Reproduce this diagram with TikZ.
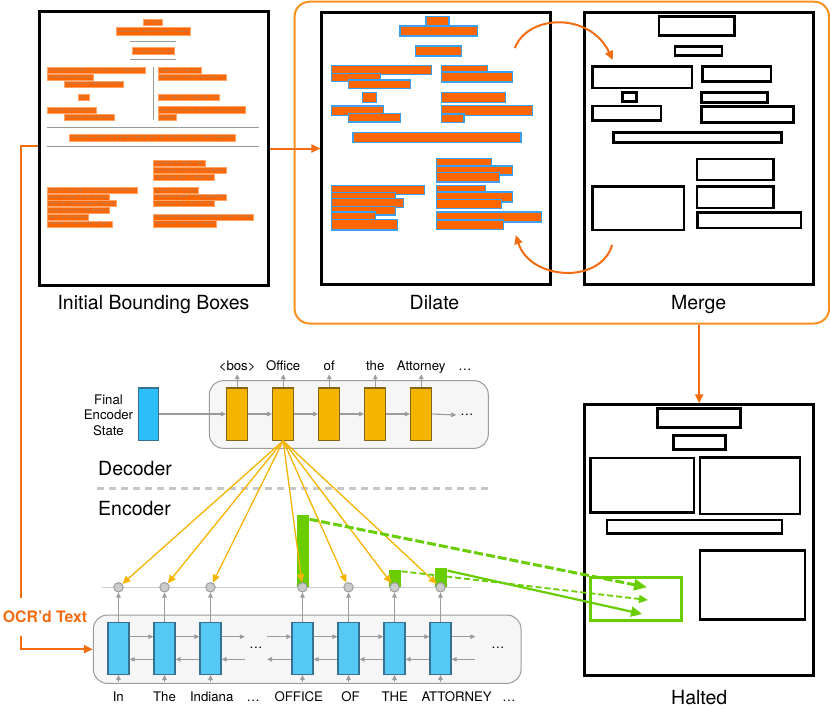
\documentclass[tikz,border=0pt]{standalone}
\usepackage{fontspec}
\setmainfont{TeX Gyre Heros}
\newfontfamily\docfont{Liberation Serif}
\usetikzlibrary{arrows.meta,positioning}

\definecolor{ocrorange}{RGB}{255,102,0}
\definecolor{looporange}{RGB}{250,145,30}
\definecolor{arrorange}{RGB}{242,108,18}
\definecolor{dilblue}{RGB}{60,160,240}
\definecolor{encblue}{RGB}{85,200,245}
\definecolor{encedge}{RGB}{55,115,145}
\definecolor{stateblue}{RGB}{45,190,250}
\definecolor{decyellow}{RGB}{245,180,0}
\definecolor{decedge}{RGB}{130,100,25}
\definecolor{attgreen}{RGB}{105,205,0}
\definecolor{rnngray}{RGB}{155,155,155}
\definecolor{bggray}{RGB}{246,246,246}

\newcommand{\capfont}{\fontsize{19.5}{23}\selectfont}
\newcommand{\tokfont}{\fontsize{13.2}{15.5}\selectfont}

\tikzset{
  panel/.style={draw, line width=3pt, inner sep=0pt, minimum width=228.5pt, minimum height=271.5pt},
  caption/.style={font=\capfont, anchor=base, inner sep=0pt},
  ocrword/.style={fill=ocrorange, draw=ocrorange!60!white, line width=0.8pt},
  dilbox/.style={fill=ocrorange, draw=dilblue, line width=1.2pt},
  mergebox/.style={draw, line width=2.5pt},
  ocrarrow/.style={draw=arrorange, line width=2pt, -{Triangle[length=9pt,width=8pt]}},
  rnnbg/.style={draw=rnngray, fill=bggray, rounded corners=14pt, line width=1pt, inner sep=0pt},
  enccell/.style={draw=encedge, fill=encblue, line width=1.3pt, minimum width=21pt, minimum height=51.7pt, inner sep=0pt},
  deccell/.style={draw=decedge, fill=decyellow, line width=1.3pt, minimum width=21pt, minimum height=52.3pt, inner sep=0pt},
  tok/.style={font=\tokfont, anchor=base, text height=10pt, text depth=0pt, inner xsep=1pt},
  rnnarrow/.style={draw=rnngray, line width=1.1pt, -{Triangle[length=5pt,width=4.5pt]}},
  attcirc/.style={circle, draw=rnngray, fill=black!20, line width=1pt, minimum size=9.4pt, inner sep=0pt},
  attbar/.style={fill=attgreen, anchor=south, minimum width=12.6pt, inner sep=0pt},
  attn/.style={draw=decyellow, line width=1.3pt, -{Triangle[length=8pt,width=7pt]}},
  gbig/.style={draw=attgreen, line width=3pt, dash pattern=on 9pt off 3pt, -{Triangle[length=13pt,width=11pt]}},
  gthin/.style={draw=attgreen, line width=1.8pt, dash pattern=on 6pt off 3pt, -{Triangle[length=9pt,width=8pt]}},
  gsolid/.style={draw=attgreen, line width=2.2pt, -{Triangle[length=11pt,width=10pt]}}
}

\begin{document}
\begin{tikzpicture}[x=1pt,y=-1pt]
  \useasboundingbox (0,0) rectangle (830,709);
  \fill[white] (0,0) rectangle (830,709);

  % panels of the bounding-box stage
  \node[draw=looporange, line width=2pt, rounded corners=15pt, minimum width=534.5pt, minimum height=321.8pt] (iter) at (561.8,162.6) {};
  \node[panel, minimum width=229pt, minimum height=273pt] (init) at (153.5,148.5) {};
  \node[panel] (dilate) at (436.2,148.5) {};
  \node[panel] (merge) at (699.2,148.5) {};
  \node[panel, minimum height=271pt] (halted) at (699.2,540.3) {};

  \node[caption] (initcap) at (153.5,309.5) {Initial Bounding Boxes};
  \node[caption] (dilcap) at (434.5,309.5) {Dilate};
  \node[caption] (mergecap) at (698.6,309.5) {Merge};
  \node[caption] (haltcap) at (699.2,704.3) {Halted};

  % scanned page with OCR words
  \foreach \xa/\ya/\xb/\yb/\txt [count=\i] in {
    143.3/19/162.7/25/In The,
    116/27.7/190.7/35/Indiana Supreme Court,
    132/47.7/174.7/54.3/No. 49S02-1705-PL-326,
    47.3/67.3/145.3/73.3/INDIANA FAMILY AND SOCIAL SERVICES,
    47.3/74.3/93.3/80/ADMINISTRATION,
    64/81/123.3/87/Appellant-Respondent,
    78.3/94.3/89.3/100.7/v.,
    47.3/107.3/96.7/113.7/LANCE PATTERSON,
    64/114.3/114/120.3/Appellee-Petitioner,
    158/67.3/201.3/73.3/Appeal from the,
    158/74.3/226/80.7/Marion Circuit Court No. 1,
    158/94.3/219.3/100.7/No. 49C01-1106-PL-19,
    158/106.7/245.3/113.7/The Honorable Kit C. Dean Crane,
    158/114.3/176.7/120.3/Judge,
    69/134.3/235/141/APPELLANT’S RESPONSE TO PETITION TO TRANSFER,
    153.3/160/205/166.7/{CURTIS T. HILL, JR.},
    153.3/167.7/226/173.7/Attorney General of Indiana,
    153.3/174.3/214.7/180.3/Attorney No. 13999-20,
    47.3/187.3/137.3/193.7/OFFICE OF THE ATTORNEY GENERAL,
    47.3/194/109.3/200.3/{IGC South, Fifth Floor},
    47.3/200.7/116.7/206.7/302 W. Washington Street,
    47.3/207.3/109.3/213.7/{Indianapolis, IN 46204},
    47.3/214.3/88.7/220.3/317-232-0709,
    47.3/221/112/227.3/Aaron.Craft@atg.in.gov,
    153.3/187.3/198/193.7/Aaron T. Craft,
    153.3/194/226/200.3/{Section Chief, Civil Appeals},
    153.3/200.7/214.7/206.7/Attorney No. 28179-49,
    153.3/214/253.3/220.3/Counsel for Indiana Family and Social,
    153.3/220.7/216.7/227/Services Administration} {
    \draw[ocrword] (\xa,\ya) rectangle (\xb,\yb);
    \node[inner sep=0pt, text=black!45] (word\i) at ({(\xa+\xb)/2},{(\ya+\yb)/2})
      {\resizebox{\dimexpr\xb pt-\xa pt-3pt\relax}{2.2pt}{\docfont\txt}};
  }
  \draw[black!40, line width=0.8pt] (130,41.7) -- (176,41.7) (130,59.3) -- (176,59.3)
    (153.3,67) -- (153.3,120) (47,127.3) -- (259.3,127.3) (46.7,146) -- (259.3,146);

  % dilated boxes
  \foreach \xa/\ya/\xb/\yb in {426/16.7/448.9/26, 399.9/26/477.1/36, 415.3/46/461.6/56,
    331.7/65.3/431.8/74.7, 331.7/73.3/380.4/81.3, 348.8/80/410.5/88.7,
    441.4/65.3/487.3/72.7, 441.4/72/512.7/82, 362.5/92.3/376.2/102.3, 441.4/92.3/505.2/102.3,
    331.7/106/383.4/115.3, 348.8/113.3/400.2/122, 441.4/105.3/532.6/115.3, 441.4/114/464/122.7,
    352.9/132.7/521/142.7, 436.6/158.7/491.1/166, 436.6/166/512.7/175, 436.6/172.7/499.7/182,
    331.7/185.3/424.2/194.7, 331.7/192.7/395.4/199.3, 331.7/198.7/403.3/207.3,
    331.7/206.7/395.4/215, 331.7/212/375.6/220, 331.7/219.3/397.5/230,
    436.6/185.3/485.3/192.7, 436.6/192/512.7/202, 436.6/199.3/501.1/208.7,
    436.6/212/541.5/222, 436.6/220/503.8/229.3}
    \draw[dilbox] (\xa,\ya) rectangle (\xb,\yb);

  % merged boxes
  \foreach \xa/\ya/\xb/\yb in {659.1/16.7/734.6/35.3, 675.2/46.3/721.9/55.3, 592.6/66.3/692.1/88,
    702.3/66.7/771/81.7, 622.4/92.3/636.5/101.3, 701.6/92.3/767.5/102.3, 592.3/106/660.8/120.7,
    701.6/106.7/793.5/122.7, 613.5/132.7/781.5/142.7, 696.8/159/773.7/180, 592.3/186.3/683.8/230,
    696.8/186.3/773.7/208, 697.5/212.3/801.1/228}
    \draw[mergebox] (\xa,\ya) rectangle (\xb,\yb);

  % halted boxes
  \foreach \xa/\ya/\xb/\yb in {657.3/408.3/740.7/427.3, 673.3/435.7/725.7/449.3,
    590.3/458/694/512.3, 700/457.3/800/514, 607/520/782/533.3, 700/550.3/805/619.3}
    \draw[mergebox, line width=2.7pt] (\xa,\ya) rectangle (\xb,\yb);

  % dilate / merge loop
  \coordinate (loopa) at (514.8,48);
  \coordinate (loopb) at (612.8,60);
  \coordinate (loopc) at (612.2,245);
  \coordinate (loopd) at (515.8,235);
  \draw[ocrarrow] (loopa) .. controls (528,14) and (590,12) .. (loopb);
  \draw[ocrarrow] (loopc) .. controls (600,285) and (530,280) .. (loopd);

  \draw[ocrarrow] (init.east) -- (dilate.west);
  \draw[ocrarrow] (merge.south |- iter.south) -- (halted.north);

  % decoder
  \node[rnnbg, minimum width=279pt, minimum height=67.6pt] (decbg) at (348.8,414.5) {};
  \node[draw=encedge, fill=stateblue, line width=1.3pt, minimum width=20.4pt, minimum height=52.3pt, inner sep=0pt] (fin) at (148.5,414) {};
  \node[font=\tokfont, align=center, inner sep=0pt] (finlab) at (108.5,415) {Final\\Encoder\\State};
  \foreach \w [count=\i] in {\textless bos\textgreater, Office, of, the, Attorney} {
    \node[deccell] (d\i) at ({191.2+46*\i},414) {};
    \node[tok] (o\i) at ({191.2+46*\i},370.7) {\w};
    \draw[rnnarrow] (d\i.north) -- (d\i.north |- o\i.south);
  }
  \node[tok] (o6) at (465,370.7) {…};
  \node[font=\tokfont, minimum width=21pt, inner sep=0pt] (ddots) at (467,415) {…};
  \draw[rnnarrow] (fin.east) -- (d1.west);
  \foreach \i [evaluate=\i as \j using int(\i+1)] in {1,...,4}
    \draw[rnnarrow] (d\i.east) -- (d\j.west);
  \draw[rnnarrow] (d5.east) -- (ddots.west);

  \node[caption, anchor=base west] (declab) at (98,475) {Decoder};
  \draw[black!22, line width=3pt, dash pattern=on 7pt off 5pt] (97,488.3) -- (493,488.3);
  \node[caption, anchor=base west] (enclab) at (98,515.5) {Encoder};

  % encoder
  \node[rnnbg, minimum width=427.7pt, minimum height=68.3pt] (encbg) at (307.2,649.2) {};
  \draw[black!20, line width=1.5pt] (101.7,587.3) -- (470.7,587.3);
  \node[attbar, minimum height=71.7pt] (b4) at (303,587.3) {};
  \node[attbar, minimum height=17.3pt] (b6) at (395,587.3) {};
  \node[attbar, minimum height=19.3pt] (b7) at (441,587.3) {};
  \foreach \x/\lx/\w [count=\i] in {118.5/118.3/In, 164.5/164.5/The, 210.5/211.7/Indiana,
    302.5/298.8/OFFICE, 348.5/350.5/OF, 394.5/394.7/THE, 440.5/456.7/ATTORNEY} {
    \node[enccell] (e\i) at (\x,648.5) {};
    \node[tok, inner ysep=9pt] (in\i) at (\lx,701) {\w};
    \node[attcirc] (c\i) at (\x,587.3) {};
    \draw[rnnarrow] (e\i.south |- in\i.north) -- (e\i.south);
    \draw[rnnarrow] (e\i.north) -- (c\i.south);
  }
  \node[tok] (in8) at (253.3,701) {…};
  \node[tok] (in9) at (509,701) {…};
  \node[font=\tokfont, minimum width=22pt, inner sep=0pt] (edots1) at (256,648) {…};
  \node[font=\tokfont, minimum width=45pt, inner sep=0pt] (edots2) at (498,648) {…};
  \foreach \i/\j in {1/2, 2/3, 4/5, 5/6, 6/7} {
    \draw[rnnarrow] ([yshift=11.8pt]e\i.east) -- ([yshift=11.8pt]e\j.west);
    \draw[rnnarrow] ([yshift=-10.8pt]e\j.west) -- ([yshift=-10.8pt]e\i.east);
  }
  \draw[rnnarrow] ([yshift=11.8pt]e3.east) -- ([yshift=11.8pt]e3.east -| edots1.west);
  \draw[rnnarrow] ([yshift=-10.8pt]e3.east -| edots1.west) -- ([yshift=-10.8pt]e3.east);
  \draw[rnnarrow] ([yshift=11.8pt]e4.west -| edots1.east) -- ([yshift=11.8pt]e4.west);
  \draw[rnnarrow] ([yshift=-10.8pt]e4.west) -- ([yshift=-10.8pt]e4.west -| edots1.east);
  \draw[rnnarrow] ([yshift=11.8pt]e7.east) -- ([yshift=11.8pt]e7.east -| edots2.west);
  \draw[rnnarrow] ([yshift=-10.8pt]e7.east -| edots2.west) -- ([yshift=-10.8pt]e7.east);

  % attention from the decoder step
  \foreach \i in {1,...,7}
    \draw[attn] (d2.south) -- (c\i);

  % attended words mapped onto the halted box
  \node[draw=attgreen, line width=3pt, minimum width=91.7pt, minimum height=42.7pt, inner sep=0pt] (focus) at (636.1,599.3) {};
  \coordinate (g1) at (647,587.3);
  \coordinate (g2) at (648,600);
  \coordinate (g3) at (642,614);
  \draw[gbig] ([yshift=-4pt]b4.north east) -- (g1);
  \draw[gthin] ([yshift=-1.7pt]b6.north east) -- (g2);
  \draw[gsolid] ([yshift=-3pt]b7.north east) -- (g3);

  % OCR text feeds the encoder
  \draw[ocrarrow] ([yshift=2.5pt]init.west) -- ++(-17,0) |- (encbg.west);
  \node[fill=white, font=\bfseries\fontsize{15.8}{18}\selectfont, text=arrorange, inner xsep=1pt, inner ysep=13pt] (ocrlab) at (45,617) {OCR’d Text};
\end{tikzpicture}
\end{document}
